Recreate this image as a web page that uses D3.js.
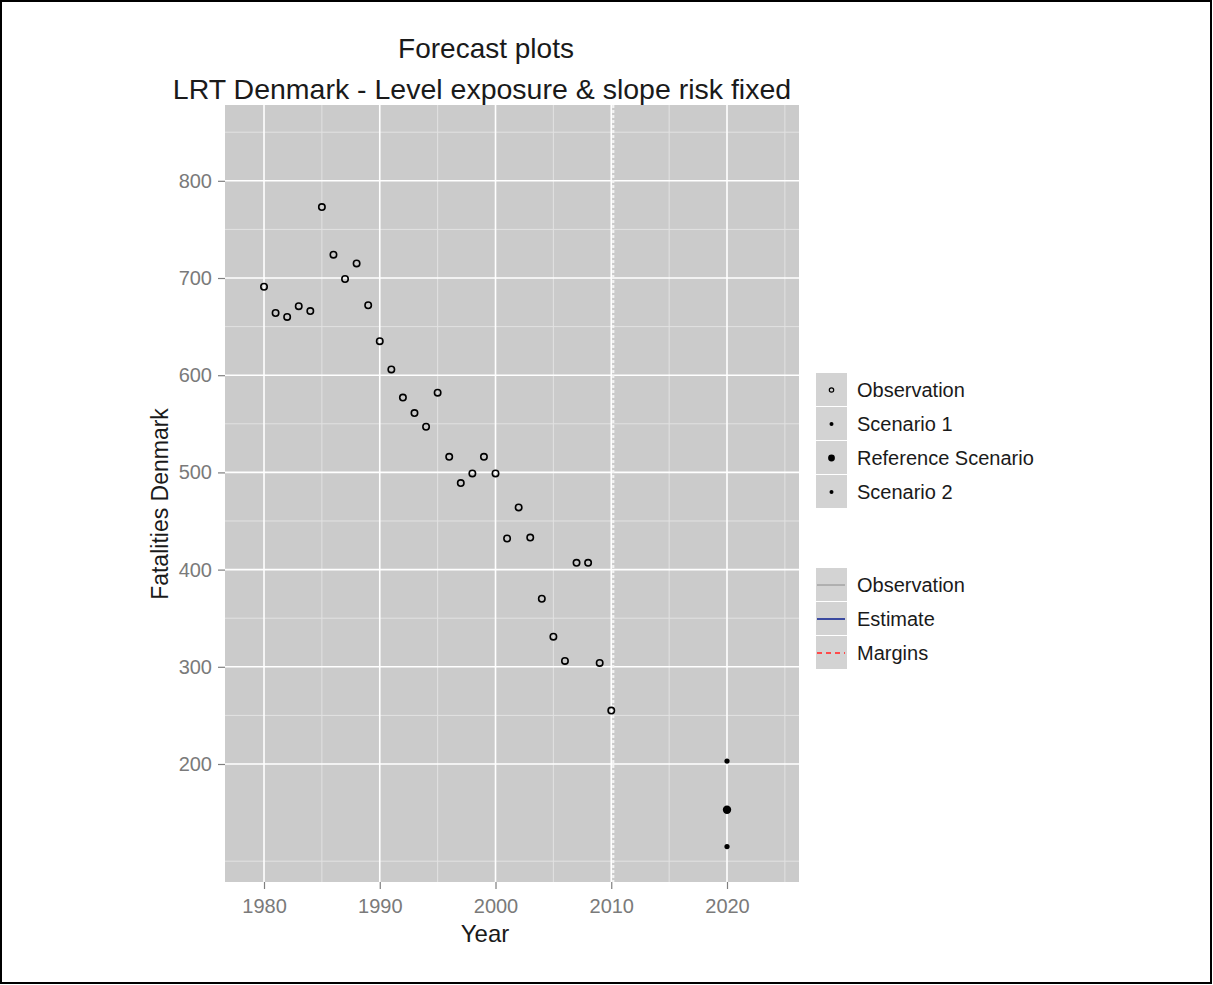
<!DOCTYPE html>
<html>
<head>
<meta charset="utf-8">
<script src="https://d3js.org/d3.v7.min.js"></script>
<style>
  body { margin: 0; background: #fff; }
  text { font-family: "Liberation Sans", Arial, sans-serif; }
</style>
</head>
<body>
<div id="chart"></div>
<script>
// data
var years = [1980, 1981, 1982, 1983, 1984, 1985, 1986, 1987, 1988, 1989,
             1990, 1991, 1992, 1993, 1994, 1995, 1996, 1997, 1998, 1999,
             2000, 2001, 2002, 2003, 2004, 2005, 2006, 2007, 2008, 2009, 2010];
var fatalities = [691, 664, 660, 671, 666, 773, 724, 699, 715, 672,
                  635, 606, 577, 561, 547, 582, 516, 489, 499, 516,
                  499, 432, 464, 433, 370, 331, 306, 407, 407, 304, 255];
var forecastYear = 2020;
var scenarioNames = ["Scenario 1", "Reference Scenario", "Scenario 2"];
var scenarioValues = [203, 153, 115];
var lastObsYear = 2010;
var xTicks = [1980, 1990, 2000, 2010, 2020];
var yTicks = [200, 300, 400, 500, 600, 700, 800];
var pointLegend = ["Observation", "Scenario 1", "Reference Scenario", "Scenario 2"];
var lineLegend = ["Observation", "Estimate", "Margins"];

var width = 1213, height = 985;
var panel = {left: 225, right: 799, top: 105, bottom: 882};

var svg = d3.select("#chart")
            .append("svg")
              .attr("width", width)
              .attr("height", height);

svg.append("rect")
   .attr("x", 0).attr("y", 0)
   .attr("width", width).attr("height", height)
   .attr("fill", "#fff");

var xScale = d3.scaleLinear()
               .domain([1976.63, 2026.22])
               .range([panel.left, panel.right]);
var yScale = d3.scaleLinear()
               .domain([78.6, 878])
               .range([panel.bottom, panel.top]);

svg.append("rect")
   .attr("x", panel.left).attr("y", panel.top)
   .attr("width", panel.right - panel.left)
   .attr("height", panel.bottom - panel.top)
   .attr("fill", "#cbcbcb");

// minor grid
var xMinor = xTicks.map(d => d + 5).filter(d => xScale(d) < panel.right);
var yMinor = [100].concat(yTicks.map(d => d + 50)).filter(d => yScale(d) > panel.top);

svg.selectAll(".xminor")
   .data(xMinor)
   .enter().append("line")
     .attr("x1", d => xScale(d)).attr("x2", d => xScale(d))
     .attr("y1", panel.top).attr("y2", panel.bottom)
     .attr("stroke", "#e2e2e2").attr("stroke-width", 1);
svg.selectAll(".yminor")
   .data(yMinor)
   .enter().append("line")
     .attr("x1", panel.left).attr("x2", panel.right)
     .attr("y1", d => yScale(d)).attr("y2", d => yScale(d))
     .attr("stroke", "#e2e2e2").attr("stroke-width", 1);

// major grid
svg.selectAll(".xmajor")
   .data(xTicks)
   .enter().append("line")
     .attr("x1", d => xScale(d)).attr("x2", d => xScale(d))
     .attr("y1", panel.top).attr("y2", panel.bottom)
     .attr("stroke", "#fff").attr("stroke-width", 1.6);
svg.selectAll(".ymajor")
   .data(yTicks)
   .enter().append("line")
     .attr("x1", panel.left).attr("x2", panel.right)
     .attr("y1", d => yScale(d)).attr("y2", d => yScale(d))
     .attr("stroke", "#fff").attr("stroke-width", 1.6);

// end of observations marker
svg.append("line")
   .attr("x1", xScale(lastObsYear) + 2).attr("x2", xScale(lastObsYear) + 2)
   .attr("y1", panel.top).attr("y2", panel.bottom)
   .attr("stroke", "#f4f4f4").attr("stroke-width", 2.2)
   .attr("stroke-dasharray", "3,2");

// axes
var xAxis = svg.append("g")
   .attr("transform", "translate(0," + panel.bottom + ")")
   .call(d3.axisBottom(xScale).tickValues(xTicks).tickFormat(d3.format("d")).tickSize(7).tickPadding(10));
var yAxis = svg.append("g")
   .attr("transform", "translate(" + panel.left + ",0)")
   .call(d3.axisLeft(yScale).tickValues(yTicks).tickSize(7).tickPadding(6));
[xAxis, yAxis].forEach(function(g) {
  g.select(".domain").remove();
  g.selectAll("line").attr("stroke", "#7f7f7f").attr("stroke-width", 1.2);
  g.selectAll("text")
   .attr("fill", "#7a7a7a")
   .style("font-size", "20px")
   .style("font-family", "'Liberation Sans', Arial, sans-serif");
});

// observations
svg.selectAll(".obs")
   .data(years)
   .enter().append("circle")
     .attr("cx", d => xScale(d))
     .attr("cy", (d, i) => yScale(fatalities[i]))
     .attr("r", 3.2)
     .attr("fill", "none")
     .attr("stroke", "#000")
     .attr("stroke-width", 1.6);

// scenarios
var scenarioSize = [2.6, 4.2, 2.6];
svg.selectAll(".scen")
   .data(scenarioValues)
   .enter().append("circle")
     .attr("cx", xScale(forecastYear))
     .attr("cy", d => yScale(d))
     .attr("r", (d, i) => scenarioSize[i])
     .attr("fill", "#000");

// titles
svg.append("text")
   .attr("x", 486).attr("y", 58)
   .attr("text-anchor", "middle")
   .style("font-size", "28px").attr("fill", "#1a1a1a")
   .text("Forecast plots");
svg.append("text")
   .attr("x", 482).attr("y", 99)
   .attr("text-anchor", "middle")
   .style("font-size", "28.5px").attr("fill", "#1a1a1a")
   .text("LRT Denmark - Level exposure & slope risk fixed");
svg.append("text")
   .attr("x", 485).attr("y", 942)
   .attr("text-anchor", "middle")
   .style("font-size", "24px").attr("fill", "#1a1a1a")
   .text("Year");
svg.append("text")
   .attr("transform", "translate(168,504) rotate(-90)")
   .attr("text-anchor", "middle")
   .style("font-size", "23px").attr("fill", "#1a1a1a")
   .text("Fatalities Denmark");

// legends
var keyX = 816, keyW = 31, keyH = 34;
var pl = svg.append("g").attr("transform", "translate(" + keyX + ",373)");
var pRows = pl.selectAll("g").data(pointLegend).enter().append("g")
   .attr("transform", (d, i) => "translate(0," + i * keyH + ")");
pRows.append("rect").attr("width", keyW).attr("height", keyH - 1).attr("fill", "#d3d3d3");
pRows.append("circle")
   .attr("cx", keyW / 2).attr("cy", keyH / 2)
   .attr("r", (d, i) => [2.2, 2, 3.4, 2][i])
   .attr("fill", (d, i) => i === 0 ? "none" : "#000")
   .attr("stroke", (d, i) => i === 0 ? "#000" : "none")
   .attr("stroke-width", 1.2);
pRows.append("text")
   .attr("x", 41).attr("y", keyH / 2 + 7)
   .style("font-size", "20px").attr("fill", "#1a1a1a")
   .text(d => d);

var ll = svg.append("g").attr("transform", "translate(" + keyX + ",568)");
var lRows = ll.selectAll("g").data(lineLegend).enter().append("g")
   .attr("transform", (d, i) => "translate(0," + i * keyH + ")");
lRows.append("rect").attr("width", keyW).attr("height", keyH - 1).attr("fill", "#d3d3d3");
lRows.append("line")
   .attr("x1", 1).attr("x2", keyW - 2)
   .attr("y1", keyH / 2).attr("y2", keyH / 2)
   .attr("stroke", (d, i) => ["#8c8c8c", "#2a3a9a", "#ff4a4a"][i])
   .attr("stroke-width", (d, i) => i === 0 ? 1 : 1.8)
   .attr("stroke-dasharray", (d, i) => i === 2 ? "5,4" : null);
lRows.append("text")
   .attr("x", 41).attr("y", keyH / 2 + 7)
   .style("font-size", "20px").attr("fill", "#1a1a1a")
   .text(d => d);

// outer frame
svg.append("rect")
   .attr("x", 1).attr("y", 1)
   .attr("width", width - 3).attr("height", height - 3)
   .attr("fill", "none").attr("stroke", "#000").attr("stroke-width", 2);
</script>
</body>
</html>
